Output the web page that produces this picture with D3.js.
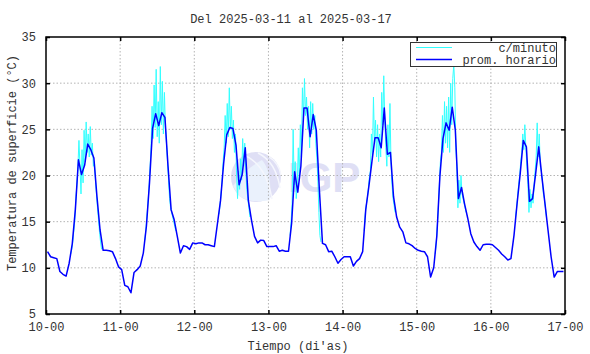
<!DOCTYPE html>
<html>
<head>
<meta charset="utf-8">
<script src="https://cdn.jsdelivr.net/npm/d3@7"></script>
<style>
  body { margin: 0; background: #fff; }
  svg text { font-family: "Liberation Mono", "Courier New", monospace; }
</style>
</head>
<body>
<svg id="chart" width="590" height="354"></svg>
<script>
// tick labels
const dayLabels = ["10-00", "11-00", "12-00", "13-00", "14-00", "15-00", "16-00", "17-00"];
const yTicks = [5, 10, 15, 20, 25, 30, 35];

// hourly means (prom. horario), one array per day, 00h..23h
const hourly10 = [11.75, 11.2, 11.1, 11.0, 9.6, 9.3, 9.1, 10.5, 12.6, 16.3, 21.7, 20.1, 21.1, 23.4, 22.8, 21.9, 17.7, 14.1, 11.9, 11.9, 11.85, 11.75, 11.0, 10.1];
const hourly11 = [9.8, 8.1, 7.95, 7.3, 9.5, 9.8, 10.2, 11.6, 14.5, 19.2, 25.1, 26.7, 25.4, 26.8, 26.3, 21.0, 16.3, 15.2, 13.4, 11.6, 12.4, 12.3, 12.0, 12.7];
const hourly12 = [12.6, 12.7, 12.7, 12.5, 12.5, 12.4, 12.3, 14.8, 17.3, 21.3, 24.4, 25.2, 25.1, 23.3, 19.0, 20.1, 23.0, 17.3, 15.2, 13.4, 12.7, 13.0, 12.95, 12.3];
const hourly13 = [12.3, 12.3, 12.4, 11.8, 11.9, 11.8, 11.8, 14.8, 20.4, 18.2, 21.0, 27.3, 27.3, 24.2, 26.6, 24.9, 18.4, 12.65, 12.5, 11.75, 11.8, 11.2, 10.5, 10.9];
const hourly14 = [11.2, 11.2, 11.2, 10.2, 10.7, 11.0, 11.75, 16.3, 18.8, 21.5, 24.1, 24.1, 23.0, 27.3, 22.3, 22.5, 17.7, 15.5, 14.4, 13.9, 12.7, 12.6, 12.4, 12.1];
const hourly15 = [11.9, 11.8, 11.75, 11.2, 9.0, 10.0, 13.4, 19.9, 24.0, 25.7, 24.9, 27.4, 24.9, 17.5, 18.7, 16.9, 15.4, 13.7, 12.8, 12.3, 11.9, 12.5, 12.55, 12.55];
const hourly16 = [12.5, 12.2, 11.9, 11.5, 11.2, 10.85, 11.0, 13.55, 17.0, 20.2, 23.8, 23.1, 17.2, 17.5, 20.2, 23.1, 19.9, 17.0, 14.1, 11.2, 9.0, 9.6, 9.6, 9.6];

// per-minute readings (c/minuto) around midday, sampled every 20 min
// start hour of each stretch, counted from 10-00
const minuteStart = [8, 32, 56, 79, 103, 126, 152];
const minute10 = [11.5, 12.0, 12.8, 14.0, 15.2, 17.5, 19.0, 21.0, 23.8, 21.0, 18.0, 22.8, 19.2, 24.9, 21.5, 25.8, 22.5, 24.5, 22.0, 25.3, 22.2, 23.5, 21.0, 21.5, 19.5, 18.0, 16.5, 15.2, 13.8, 12.8, 12.0];
const minute11 = [13.0, 14.2, 15.6, 17.0, 18.6, 20.8, 23.0, 27.5, 24.0, 29.8, 25.2, 31.5, 24.2, 28.0, 23.5, 31.8, 25.5, 30.2, 24.5, 29.0, 25.0, 23.5, 21.5, 19.5, 17.5, 16.5, 16.0, 15.5, 15.0, 14.5, 14.0];
const minute12 = [15.8, 16.8, 18.0, 19.5, 21.5, 23.0, 26.5, 23.5, 27.8, 24.2, 29.5, 25.0, 27.5, 24.0, 26.0, 22.5, 24.5, 20.5, 17.5, 20.5, 18.5, 21.8, 19.5, 24.0, 21.0, 23.5, 20.5, 18.5, 17.5, 16.5, 15.5];
const minute13 = [13.5, 15.0, 17.0, 25.0, 19.0, 21.5, 17.5, 19.0, 23.0, 19.5, 25.5, 22.0, 29.5, 26.0, 30.5, 26.5, 28.5, 25.0, 27.5, 23.0, 28.0, 24.5, 27.8, 25.0, 26.5, 23.5, 22.0, 19.5, 16.0, 13.5, 12.8];
const minute14 = [14.0, 15.8, 16.8, 17.5, 18.5, 19.8, 20.5, 24.5, 22.0, 28.5, 23.5, 26.0, 22.0, 25.5, 21.5, 24.5, 22.0, 29.0, 25.5, 30.8, 26.0, 23.0, 21.0, 25.5, 22.0, 27.8, 21.5, 19.0, 17.5, 16.8, 16.0];
const minute15 = [11.5, 12.8, 14.5, 16.5, 19.0, 21.5, 22.5, 26.5, 22.5, 28.0, 23.5, 27.5, 23.0, 28.5, 22.5, 30.0, 25.5, 30.5, 32.0, 29.5, 23.0, 21.0, 16.5, 19.5, 17.0, 20.0, 18.0, 17.5, 17.0, 16.5, 16.0];
const minute16 = [15.5, 16.5, 17.8, 19.0, 20.0, 21.5, 22.5, 24.5, 22.8, 25.5, 23.0, 21.0, 19.0, 16.0, 18.5, 16.5, 18.0, 17.0, 19.0, 20.5, 22.0, 25.7, 22.0, 24.5, 21.0, 20.5, 19.5, 18.0, 17.5, 16.5, 15.5];

const hourlyDays = [hourly10, hourly11, hourly12, hourly13, hourly14, hourly15, hourly16];
const minuteDays = [minute10, minute11, minute12, minute13, minute14, minute15, minute16];

const svg = d3.select("#chart");
const margin = { top: 37, right: 25, bottom: 40, left: 46 };
const plotW = 590 - margin.left - margin.right;
const plotH = 354 - margin.top - margin.bottom;

const x = d3.scaleLinear().domain([0, 168]).range([margin.left, margin.left + plotW]);
const y = d3.scaleLinear().domain([5, 35]).range([margin.top + plotH, margin.top]);
const dayTicks = dayLabels.map((d, i) => i * 24);

// watermark (IGP logo)
const wm = svg.append("g").attr("opacity", 0.9);
wm.append("circle").attr("cx", 256).attr("cy", 177).attr("r", 25).attr("fill", "#dcdcf4");
wm.append("path")
  .attr("d", "M233,186 Q246,168 262,160 Q272,171 270,200 Q252,204 239,196 Z")
  .attr("fill", "#e8f0fc");
wm.append("path")
  .attr("d", "M244,155 Q266,164 272,199 M258,153 Q276,162 280,188 M268,156 Q280,164 281,176")
  .attr("fill", "none").attr("stroke", "#f4f6fd").attr("stroke-width", 1.5);
wm.append("text")
  .attr("x", 288).attr("y", 192)
  .style("font-family", "'Liberation Sans', Arial, sans-serif")
  .style("font-weight", "bold")
  .style("font-size", "42px")
  .attr("fill", "#dcdcf4")
  .text("IGP");

// grid
const grid = svg.append("g").attr("stroke", "#b4b4b4").attr("stroke-dasharray", "1.5,2").attr("stroke-width", 1);
dayTicks.slice(1, -1).forEach(t => {
  grid.append("line").attr("x1", x(t)).attr("x2", x(t)).attr("y1", y(35)).attr("y2", y(5));
});
yTicks.slice(1, -1).forEach(v => {
  grid.append("line").attr("x1", x(0)).attr("x2", x(168)).attr("y1", y(v)).attr("y2", y(v));
});

// per-minute series
const line = d3.line().x(d => x(d[0])).y(d => y(d[1]));
minuteDays.forEach((vals, i) => {
  const pts = vals.map((v, j) => [minuteStart[i] + j / 3, v]);
  svg.append("path").datum(pts)
    .attr("fill", "none").attr("stroke", "#33ffff").attr("stroke-width", 1)
    .attr("d", line);
});

// hourly mean, plotted at the middle of each hour
const hourlyPts = [];
hourlyDays.forEach((vals, i) => vals.forEach((v, h) => hourlyPts.push([i * 24 + h + 0.5, v])));
svg.append("path").datum(hourlyPts)
  .attr("fill", "none").attr("stroke", "#0000ff").attr("stroke-width", 1.5)
  .attr("stroke-linejoin", "round")
  .attr("d", line);

// axes
const styleAxis = g => {
  g.select(".domain").remove();
  g.selectAll(".tick line").attr("stroke", "#000").attr("stroke-width", 1.5);
  g.selectAll(".tick text").attr("fill", "#333").style("font-size", "12px")
    .style("font-family", "'Liberation Mono', 'Courier New', monospace");
};
svg.append("g").attr("transform", `translate(0,${y(5)})`)
  .call(d3.axisBottom(x).tickValues(dayTicks).tickFormat((d, i) => dayLabels[i]).tickSizeInner(-4).tickSizeOuter(0).tickPadding(8))
  .call(styleAxis);
svg.append("g").attr("transform", `translate(0,${y(35)})`)
  .call(d3.axisTop(x).tickValues(dayTicks).tickFormat("").tickSizeInner(-4).tickSizeOuter(0))
  .call(styleAxis);
svg.append("g").attr("transform", `translate(${x(0)},0)`)
  .call(d3.axisLeft(y).tickValues(yTicks).tickSizeInner(-4).tickSizeOuter(0).tickPadding(10))
  .call(styleAxis);
svg.append("g").attr("transform", `translate(${x(168)},0)`)
  .call(d3.axisRight(y).tickValues(yTicks).tickFormat("").tickSizeInner(-4).tickSizeOuter(0))
  .call(styleAxis);

// frame
svg.append("rect")
  .attr("x", x(0)).attr("y", y(35))
  .attr("width", x(168) - x(0)).attr("height", y(5) - y(35))
  .attr("fill", "none").attr("stroke", "#000").attr("stroke-width", 1.5);

// legend
const lg = svg.append("g");
lg.append("rect").attr("x", 410.5).attr("y", 42.5).attr("width", 146).attr("height", 24)
  .attr("fill", "#fff").attr("stroke", "#333").attr("stroke-width", 1);
lg.append("line").attr("x1", 416).attr("x2", 452).attr("y1", 47.5).attr("y2", 47.5)
  .attr("stroke", "#33ffff").attr("stroke-width", 1);
lg.append("line").attr("x1", 416).attr("x2", 452).attr("y1", 59.5).attr("y2", 59.5)
  .attr("stroke", "#0000ff").attr("stroke-width", 1.5);
lg.append("text").attr("x", 556).attr("y", 52).attr("text-anchor", "end")
  .attr("fill", "#333").style("font-size", "12px").text("c/minuto");
lg.append("text").attr("x", 556).attr("y", 64).attr("text-anchor", "end")
  .attr("fill", "#333").style("font-size", "12px").text("prom. horario");

// titles
svg.append("text").attr("x", 291).attr("y", 23).attr("text-anchor", "middle")
  .attr("fill", "#333").style("font-size", "12px").text("Del 2025-03-11 al 2025-03-17");
svg.append("text").attr("x", 298).attr("y", 350).attr("text-anchor", "middle")
  .attr("fill", "#333").style("font-size", "12px").text("Tiempo (di'as)");
svg.append("text").attr("transform", "translate(16,163) rotate(-90)").attr("text-anchor", "middle")
  .attr("fill", "#333").style("font-size", "12px").text("Temperatura de superficie (°C)");
</script>
</body>
</html>
